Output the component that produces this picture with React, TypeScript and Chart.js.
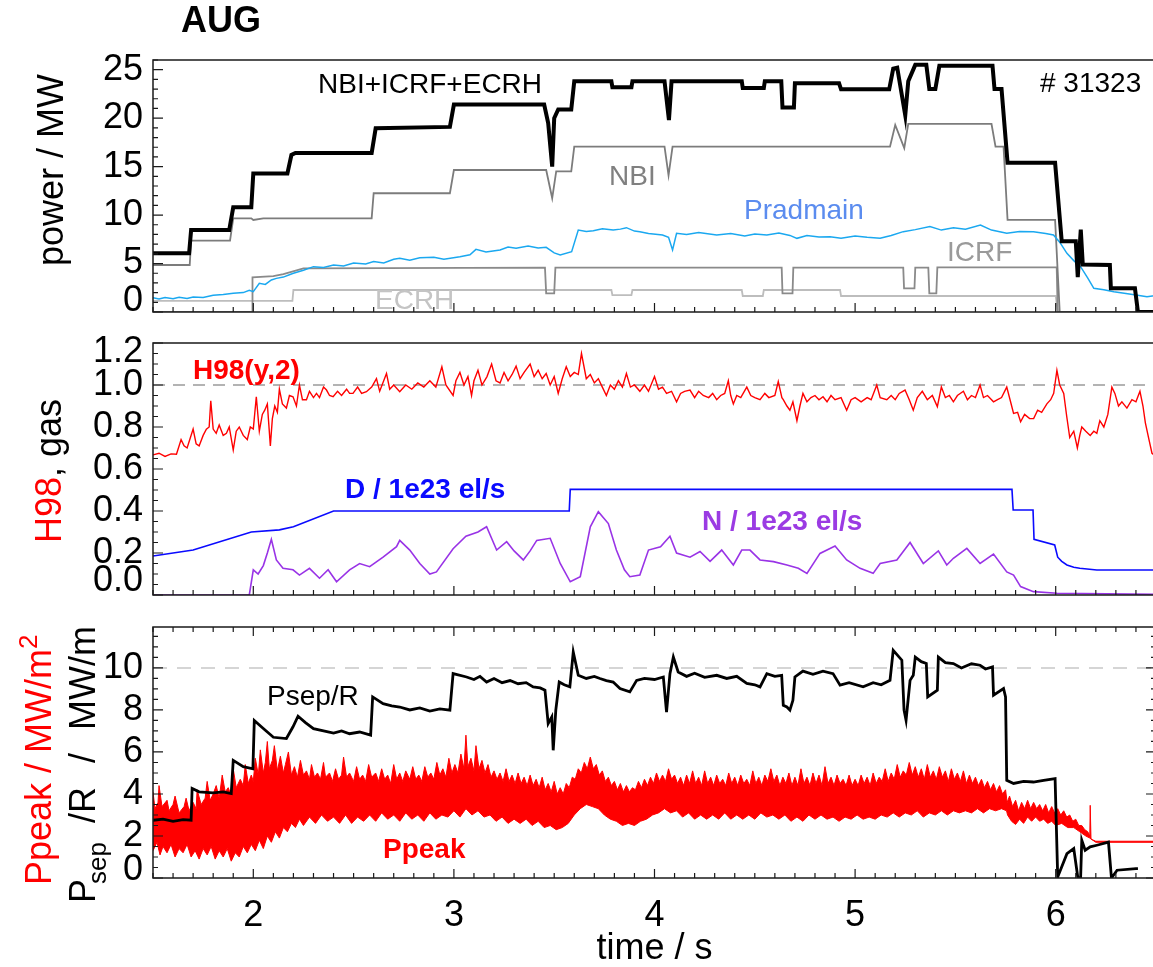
import React, { useEffect, useRef } from 'react';
import { Chart, registerables } from 'chart.js';
Chart.register(...registerables);

const FONT = '"Liberation Sans", Arial, Helvetica, sans-serif';

// ---------------- Panel 1: heating power (MW) ----------------
const totalT = [1.5, 1.68, 1.69, 1.88, 1.9, 1.99, 2.0, 2.17, 2.19, 2.21, 2.59, 2.61, 2.98, 3.0, 3.45, 3.47, 3.49, 3.5, 3.52, 3.585, 3.6, 3.785, 3.79, 3.885, 3.89, 4.05, 4.072, 4.085, 4.435, 4.44, 4.545, 4.55, 4.632, 4.638, 4.695, 4.7, 4.92, 4.93, 5.17, 5.19, 5.21, 5.25, 5.265, 5.3, 5.355, 5.37, 5.4, 5.42, 5.685, 5.695, 5.73, 5.76, 5.997, 6.03, 6.1, 6.11, 6.125, 6.135, 6.27, 6.275, 6.395, 6.41, 6.5];
const totalV = [6.05, 6.05, 8.46, 8.46, 10.8, 10.8, 14.3, 14.3, 16.2, 16.4, 16.4, 18.95, 19.1, 21.4, 21.4, 19.5, 15.0, 20.0, 20.9, 20.9, 23.8, 23.8, 23.2, 23.2, 23.8, 23.8, 19.8, 23.8, 23.8, 23.1, 23.1, 23.8, 23.8, 21.1, 21.1, 23.6, 23.6, 22.98, 22.98, 25.1, 25.2, 20.3, 23.8, 25.5, 25.5, 23.0, 23.0, 25.4, 25.4, 23.0, 23.0, 15.4, 15.4, 7.3, 7.3, 3.6, 8.5, 4.9, 4.85, 2.45, 2.45, 0, 0];

const nbiT = [1.5, 1.683, 1.69, 1.884, 1.9, 1.99, 2.0, 2.05, 2.59, 2.6, 2.98, 3.0, 3.46, 3.49, 3.51, 3.585, 3.6, 4.05, 4.07, 4.09, 5.174, 5.2, 5.245, 5.265, 5.68, 5.7, 5.74, 5.76, 5.997, 6.02, 6.5];
const nbiV = [4.85, 4.85, 7.36, 7.36, 9.67, 9.67, 9.5, 9.67, 9.67, 12.25, 12.25, 14.65, 14.65, 11.73, 14.5, 14.5, 17.06, 17.06, 14.1, 17.06, 17.06, 19.3, 16.9, 19.4, 19.4, 17.06, 17.06, 9.5, 9.5, 0, 0];

const icrfT = [1.5, 1.994, 1.996, 2.1, 2.15, 2.25, 3.454, 3.46, 3.5, 3.506, 4.634, 4.638, 4.688, 4.692, 5.24, 5.244, 5.296, 5.3, 5.365, 5.37, 5.405, 5.41, 6.005, 6.01, 6.5];
const icrfV = [0, 0, 3.58, 3.7, 3.9, 4.5, 4.57, 1.93, 1.93, 4.57, 4.57, 1.93, 1.93, 4.57, 4.57, 2.44, 2.44, 4.57, 4.57, 1.93, 1.93, 4.6, 4.6, 0, 0];

const ecrhT = [1.5, 2.195, 2.2, 3.785, 3.79, 3.885, 3.89, 4.435, 4.44, 4.54, 4.545, 4.925, 4.93, 6.0, 6.01, 6.5];
const ecrhV = [1.15, 1.15, 2.27, 2.27, 1.75, 1.75, 2.27, 2.27, 1.65, 1.65, 2.27, 2.27, 1.65, 1.65, 0, 0];

const pradT = [1.5, 1.53, 1.56, 1.6, 1.63, 1.67, 1.7, 1.75, 1.8, 1.85, 1.9, 1.95, 1.98, 2.0, 2.03, 2.06, 2.09, 2.115, 2.15, 2.18, 2.2, 2.25, 2.3, 2.35, 2.4, 2.45, 2.5, 2.56, 2.6, 2.65, 2.7, 2.73, 2.78, 2.83, 2.9, 2.95, 3.03, 3.08, 3.11, 3.16, 3.23, 3.27, 3.31, 3.37, 3.42, 3.46, 3.5, 3.53, 3.587, 3.62, 3.66, 3.695, 3.74, 3.794, 3.83, 3.86, 3.9, 3.927, 3.97, 4.04, 4.07, 4.09, 4.11, 4.16, 4.22, 4.31, 4.38, 4.45, 4.5, 4.56, 4.62, 4.675, 4.71, 4.76, 4.82, 4.875, 4.93, 5.0, 5.06, 5.125, 5.18, 5.24, 5.3, 5.373, 5.43, 5.49, 5.55, 5.625, 5.68, 5.756, 5.82, 5.889, 5.95, 5.989, 6.02, 6.056, 6.09, 6.124, 6.16, 6.19, 6.24, 6.29, 6.35, 6.4, 6.455, 6.5];
const pradV = [1.48, 1.35, 1.5, 1.38, 1.52, 1.4, 1.55, 1.5, 1.72, 1.8, 1.93, 2.0, 2.25, 2.1, 2.96, 2.85, 3.3, 3.47, 3.6, 3.85, 3.99, 4.3, 4.68, 4.6, 4.85, 4.75, 5.05, 4.95, 5.2, 5.05, 5.45, 5.54, 5.35, 5.6, 5.64, 5.45, 5.7, 5.9, 6.46, 6.2, 6.4, 6.7, 6.57, 6.8, 6.6, 6.67, 6.1, 5.88, 6.22, 8.46, 8.3, 8.39, 8.6, 8.46, 8.55, 8.7, 8.35, 8.29, 8.1, 7.95, 7.7, 6.4, 8.12, 8.0, 8.2, 7.95, 8.1, 7.85, 8.05, 7.95, 8.15, 7.9, 7.6, 7.9, 7.75, 7.77, 7.6, 7.85, 7.7, 7.6, 7.9, 8.29, 8.5, 8.81, 8.45, 8.7, 8.55, 8.98, 8.45, 8.12, 8.3, 8.29, 8.1, 7.95, 7.2, 6.05, 5.3, 4.68, 3.5, 2.44, 2.3, 2.1, 1.9, 1.75, 1.58, 1.7];

// ---------------- Panel 2: H98 and gas rates ----------------
const h98T = [1.5, 1.53, 1.56, 1.59, 1.617, 1.64, 1.655, 1.67, 1.685, 1.7, 1.715, 1.73, 1.75, 1.766, 1.78, 1.788, 1.8, 1.815, 1.83, 1.85, 1.866, 1.88, 1.9, 1.915, 1.93, 1.95, 1.97, 1.985, 2.0, 2.015, 2.03, 2.045, 2.057, 2.07, 2.085, 2.095, 2.107, 2.12, 2.13, 2.145, 2.165, 2.18, 2.198, 2.215, 2.23, 2.245, 2.265, 2.28, 2.3, 2.315, 2.33, 2.35, 2.365, 2.38, 2.398, 2.42, 2.44, 2.465, 2.48, 2.497, 2.52, 2.54, 2.564, 2.59, 2.614, 2.63, 2.664, 2.68, 2.7, 2.73, 2.76, 2.79, 2.82, 2.85, 2.88, 2.91, 2.94, 2.96, 2.996, 3.01, 3.03, 3.05, 3.07, 3.088, 3.1, 3.12, 3.14, 3.165, 3.188, 3.21, 3.23, 3.25, 3.27, 3.29, 3.31, 3.33, 3.35, 3.38, 3.4, 3.42, 3.44, 3.46, 3.48, 3.5, 3.52, 3.54, 3.56, 3.58, 3.6, 3.62, 3.636, 3.66, 3.68, 3.7, 3.72, 3.74, 3.76, 3.78, 3.8, 3.82, 3.84, 3.86, 3.88, 3.9, 3.927, 3.95, 3.97, 4.0, 4.02, 4.04, 4.06, 4.085, 4.11, 4.13, 4.15, 4.177, 4.2, 4.22, 4.243, 4.27, 4.29, 4.31, 4.33, 4.35, 4.368, 4.38, 4.393, 4.41, 4.43, 4.46, 4.48, 4.5, 4.526, 4.55, 4.57, 4.6, 4.617, 4.635, 4.642, 4.66, 4.675, 4.69, 4.71, 4.725, 4.74, 4.76, 4.78, 4.8, 4.82, 4.84, 4.86, 4.88, 4.9, 4.93, 4.958, 4.98, 5.0, 5.03, 5.06, 5.08, 5.108, 5.125, 5.158, 5.18, 5.2, 5.22, 5.249, 5.27, 5.29, 5.31, 5.335, 5.36, 5.385, 5.41, 5.43, 5.45, 5.47, 5.49, 5.51, 5.54, 5.56, 5.58, 5.6, 5.623, 5.64, 5.66, 5.69, 5.71, 5.73, 5.756, 5.775, 5.79, 5.81, 5.825, 5.845, 5.87, 5.89, 5.91, 5.93, 5.956, 5.975, 5.99, 6.006, 6.02, 6.04, 6.055, 6.07, 6.09, 6.108, 6.12, 6.13, 6.15, 6.172, 6.19, 6.205, 6.22, 6.24, 6.26, 6.28, 6.295, 6.313, 6.33, 6.355, 6.38, 6.4, 6.42, 6.435, 6.447, 6.465, 6.48, 6.5];
const h98V = [0.667, 0.675, 0.66, 0.672, 0.67, 0.74, 0.71, 0.7, 0.745, 0.79, 0.72, 0.71, 0.76, 0.79, 0.8, 0.925, 0.79, 0.77, 0.81, 0.76, 0.77, 0.8, 0.69, 0.78, 0.8, 0.76, 0.74, 0.8, 0.79, 0.944, 0.78, 0.86, 0.88, 0.91, 0.71, 0.84, 0.9, 0.87, 0.98, 0.91, 0.89, 0.95, 0.944, 0.9, 1.0, 0.93, 0.93, 0.97, 0.94, 0.96, 0.94, 0.99, 0.976, 0.95, 0.944, 0.97, 0.95, 0.98, 0.96, 0.96, 0.99, 0.96, 0.968, 0.99, 1.03, 0.97, 1.055, 0.98, 1.0, 0.968, 1.0, 0.98, 1.01, 0.99, 1.02, 0.99, 1.087, 1.0, 0.95, 1.02, 1.06, 1.0, 1.04, 0.95, 1.02, 1.07, 1.0, 1.04, 1.1, 1.02, 1.01, 1.06, 1.02, 1.05, 1.09, 1.03, 1.06, 1.1, 1.04, 1.07, 1.03, 1.055, 1.0, 1.04, 0.96, 1.03, 1.087, 1.04, 1.06, 1.05, 1.15, 1.03, 1.05, 1.01, 1.03, 0.99, 0.95, 1.0, 0.98, 1.02, 0.99, 1.055, 0.99, 1.0, 0.97, 1.0, 0.97, 1.04, 0.98, 0.99, 0.96, 0.97, 0.92, 0.96, 0.97, 0.976, 0.94, 0.97, 0.95, 0.94, 0.96, 0.93, 0.95, 0.96, 1.02, 0.95, 0.91, 0.95, 0.94, 0.99, 0.95, 0.94, 0.93, 0.96, 0.94, 0.95, 1.016, 0.94, 0.93, 0.9, 0.88, 0.92, 0.83, 0.9, 0.96, 0.92, 0.94, 0.95, 0.93, 0.944, 0.92, 0.95, 0.93, 0.94, 0.88, 0.93, 0.94, 0.92, 0.94, 0.93, 1.0, 0.94, 0.93, 0.95, 0.93, 0.96, 0.976, 0.93, 0.88, 0.94, 0.97, 0.93, 0.95, 0.897, 0.99, 0.94, 0.95, 0.92, 0.95, 0.97, 0.93, 0.95, 0.94, 1.0, 0.94, 0.95, 0.92, 0.93, 0.94, 0.99, 0.92, 0.865, 0.87, 0.825, 0.86, 0.84, 0.84, 0.88, 0.87, 0.91, 0.93, 0.96, 1.07, 1.0, 0.96, 0.85, 0.75, 0.78, 0.7, 0.76, 0.8, 0.78, 0.76, 0.78, 0.77, 0.83, 0.8, 0.86, 0.99, 0.96, 0.9, 0.92, 0.89, 0.93, 0.92, 0.97, 0.9, 0.82, 0.74, 0.675, 0.66];

const dGasT = [1.5, 1.7, 1.99, 2.13, 2.2, 2.4, 3.575, 3.58, 5.782, 5.788, 5.887, 5.892, 5.995, 6.01, 6.03, 6.056, 6.09, 6.12, 6.205, 6.5];
const dGasV = [0.186, 0.214, 0.3, 0.31, 0.325, 0.4, 0.4, 0.503, 0.503, 0.405, 0.405, 0.265, 0.238, 0.18, 0.16, 0.143, 0.132, 0.127, 0.119, 0.119];

const nGasT = [1.5, 1.98, 2.0, 2.024, 2.05, 2.07, 2.09, 2.115, 2.148, 2.198, 2.23, 2.28, 2.33, 2.373, 2.415, 2.48, 2.53, 2.58, 2.647, 2.714, 2.73, 2.78, 2.83, 2.88, 2.913, 2.996, 3.06, 3.12, 3.163, 3.213, 3.263, 3.3, 3.346, 3.38, 3.413, 3.48, 3.53, 3.58, 3.63, 3.68, 3.72, 3.77, 3.81, 3.85, 3.877, 3.927, 3.97, 4.03, 4.077, 4.11, 4.177, 4.227, 4.277, 4.335, 4.393, 4.435, 4.476, 4.526, 4.593, 4.66, 4.717, 4.76, 4.825, 4.9, 4.958, 5.025, 5.09, 5.125, 5.208, 5.274, 5.34, 5.415, 5.457, 5.49, 5.557, 5.623, 5.69, 5.756, 5.79, 5.825, 5.889, 6.006, 6.5];
const nGasV = [0, 0, 0.12, 0.1, 0.14, 0.2, 0.265, 0.167, 0.127, 0.12, 0.095, 0.127, 0.08, 0.12, 0.063, 0.12, 0.15, 0.135, 0.18, 0.23, 0.26, 0.214, 0.15, 0.1, 0.11, 0.22, 0.28, 0.3, 0.325, 0.214, 0.254, 0.21, 0.167, 0.21, 0.26, 0.27, 0.15, 0.063, 0.087, 0.325, 0.397, 0.34, 0.214, 0.12, 0.087, 0.095, 0.214, 0.23, 0.28, 0.2, 0.18, 0.207, 0.16, 0.214, 0.143, 0.214, 0.214, 0.167, 0.159, 0.143, 0.127, 0.103, 0.198, 0.233, 0.167, 0.127, 0.103, 0.15, 0.167, 0.25, 0.15, 0.21, 0.143, 0.175, 0.222, 0.15, 0.195, 0.11, 0.095, 0.04, 0.016, 0.008, 0.003];

const refT = [1.5, 6.5];
const h98Ref = [1.0, 1.0];

// ---------------- Panel 3: Psep/R and Ppeak ----------------
const psepT = [1.5, 1.55, 1.6, 1.65, 1.69, 1.695, 1.73, 1.8, 1.85, 1.89, 1.9, 1.95, 1.998, 2.005, 2.04, 2.1, 2.165, 2.198, 2.223, 2.26, 2.3, 2.35, 2.4, 2.44, 2.48, 2.53, 2.585, 2.595, 2.647, 2.69, 2.73, 2.78, 2.83, 2.88, 2.93, 2.98, 2.996, 3.063, 3.1, 3.13, 3.163, 3.2, 3.24, 3.28, 3.32, 3.36, 3.395, 3.43, 3.454, 3.47, 3.488, 3.495, 3.508, 3.525, 3.55, 3.578, 3.595, 3.62, 3.66, 3.7, 3.728, 3.76, 3.794, 3.828, 3.877, 3.911, 3.95, 4.0, 4.044, 4.06, 4.077, 4.094, 4.118, 4.16, 4.2, 4.25, 4.31, 4.36, 4.41, 4.46, 4.5, 4.526, 4.56, 4.6, 4.634, 4.642, 4.66, 4.675, 4.69, 4.7, 4.74, 4.79, 4.84, 4.89, 4.925, 4.97, 5.04, 5.09, 5.13, 5.174, 5.19, 5.233, 5.244, 5.254, 5.274, 5.29, 5.3, 5.33, 5.355, 5.362, 5.41, 5.415, 5.45, 5.49, 5.53, 5.58, 5.623, 5.65, 5.685, 5.69, 5.74, 5.75, 5.756, 5.79, 5.84, 5.889, 5.94, 5.997, 6.01, 6.056, 6.09, 6.11, 6.124, 6.13, 6.147, 6.172, 6.205, 6.263, 6.278, 6.306, 6.4, 6.41];
const psepV = [2.75, 2.8, 2.7, 2.78, 2.75, 4.26, 4.1, 4.05, 4.1, 4.02, 5.6, 5.3, 5.2, 7.5, 7.2, 6.7, 6.64, 7.2, 7.7, 7.4, 7.11, 7.0, 6.9, 7.0, 6.87, 6.95, 6.8, 8.62, 8.3, 8.2, 8.14, 8.0, 8.1, 7.95, 8.05, 7.99, 9.73, 9.57, 9.45, 9.6, 9.33, 9.5, 9.3, 9.4, 9.25, 9.3, 9.1, 9.05, 8.94, 7.35, 7.67, 6.08, 7.99, 9.33, 9.2, 9.1, 10.76, 9.65, 9.5, 9.6, 9.5, 9.4, 9.33, 9.02, 8.86, 9.41, 9.5, 9.45, 9.57, 7.9, 9.73, 10.52, 9.81, 9.6, 9.75, 9.55, 9.65, 9.5, 9.6, 9.26, 9.2, 9.1, 9.73, 9.6, 9.65, 8.22, 8.14, 7.99, 8.46, 9.57, 9.85, 9.7, 9.85, 9.73, 9.18, 9.3, 9.1, 9.3, 9.2, 9.41, 10.84, 10.37, 7.99, 7.51, 9.41, 9.65, 10.52, 10.3, 10.21, 8.62, 8.94, 10.52, 10.25, 10.21, 10.0, 10.2, 10.13, 9.95, 10.05, 8.7, 9.02, 8.62, 4.65, 4.5, 4.6, 4.57, 4.65, 4.73, 0.05, 1.16, 1.4, 0.05, -0.06, 1.8, 1.32, 1.48, 1.56, 1.71, 0.0, 0.37, 0.45, 0.45];

const ppeakHiT = [1.5, 1.51, 1.525, 1.53, 1.545, 1.57, 1.58, 1.6, 1.61, 1.63, 1.655, 1.665, 1.68, 1.7, 1.715, 1.72, 1.74, 1.76, 1.77, 1.785, 1.8, 1.815, 1.83, 1.845, 1.86, 1.875, 1.89, 1.9, 1.915, 1.935, 1.95, 1.96, 1.975, 1.99, 2.0, 2.01, 2.025, 2.035, 2.05, 2.06, 2.07, 2.08, 2.095, 2.105, 2.12, 2.135, 2.15, 2.16, 2.175, 2.19, 2.205, 2.22, 2.235, 2.25, 2.265, 2.28, 2.29, 2.305, 2.32, 2.335, 2.35, 2.36, 2.38, 2.395, 2.41, 2.425, 2.44, 2.45, 2.465, 2.48, 2.5, 2.515, 2.53, 2.545, 2.56, 2.575, 2.59, 2.61, 2.625, 2.64, 2.655, 2.67, 2.685, 2.7, 2.715, 2.73, 2.745, 2.76, 2.78, 2.795, 2.81, 2.825, 2.84, 2.855, 2.87, 2.885, 2.9, 2.915, 2.93, 2.945, 2.96, 2.975, 2.99, 3.005, 3.02, 3.035, 3.05, 3.06, 3.07, 3.085, 3.1, 3.11, 3.125, 3.14, 3.155, 3.17, 3.185, 3.2, 3.215, 3.23, 3.245, 3.26, 3.275, 3.29, 3.305, 3.32, 3.335, 3.35, 3.365, 3.38, 3.395, 3.41, 3.425, 3.44, 3.455, 3.47, 3.485, 3.5, 3.515, 3.53, 3.545, 3.56, 3.575, 3.59, 3.605, 3.62, 3.635, 3.65, 3.665, 3.68, 3.695, 3.71, 3.725, 3.74, 3.755, 3.77, 3.785, 3.8, 3.815, 3.83, 3.845, 3.86, 3.875, 3.89, 3.905, 3.92, 3.935, 3.95, 3.965, 3.98, 3.995, 4.01, 4.025, 4.04, 4.055, 4.07, 4.085, 4.1, 4.115, 4.13, 4.145, 4.16, 4.175, 4.19, 4.205, 4.22, 4.235, 4.25, 4.265, 4.28, 4.295, 4.31, 4.325, 4.34, 4.355, 4.37, 4.385, 4.4, 4.415, 4.43, 4.445, 4.46, 4.475, 4.49, 4.505, 4.52, 4.535, 4.55, 4.565, 4.58, 4.595, 4.61, 4.625, 4.64, 4.655, 4.67, 4.685, 4.7, 4.715, 4.73, 4.745, 4.76, 4.775, 4.79, 4.805, 4.82, 4.835, 4.85, 4.865, 4.88, 4.895, 4.91, 4.925, 4.94, 4.955, 4.97, 4.985, 5.0, 5.015, 5.03, 5.045, 5.06, 5.075, 5.09, 5.105, 5.12, 5.135, 5.15, 5.165, 5.18, 5.195, 5.21, 5.225, 5.24, 5.255, 5.27, 5.285, 5.3, 5.315, 5.33, 5.345, 5.36, 5.375, 5.39, 5.405, 5.42, 5.435, 5.45, 5.465, 5.48, 5.495, 5.51, 5.525, 5.54, 5.555, 5.57, 5.585, 5.6, 5.615, 5.63, 5.645, 5.66, 5.675, 5.69, 5.705, 5.72, 5.735, 5.75, 5.758, 5.77, 5.785, 5.8, 5.815, 5.83, 5.845, 5.86, 5.875, 5.89, 5.905, 5.92, 5.935, 5.95, 5.965, 5.98, 5.995, 6.01, 6.025, 6.04, 6.055, 6.07, 6.085, 6.1, 6.115, 6.13, 6.145, 6.16, 6.17, 6.172, 6.176, 6.2, 6.5];
const ppeakHiV = [4.1, 3.3, 3.6, 4.4, 3.4, 3.7, 3.2, 3.5, 3.9, 3.1, 3.4, 3.8, 3.2, 3.6, 3.3, 4.2, 3.5, 3.8, 4.6, 3.7, 4.0, 4.4, 3.8, 4.9, 4.1, 4.3, 3.9, 5.2, 4.3, 4.7, 4.4, 5.4, 4.5, 4.9, 4.6, 5.7, 4.9, 6.1, 5.0, 5.5, 6.5, 5.2, 5.6, 6.3, 5.1, 5.8, 5.0, 5.4, 6.0, 4.9, 5.3, 4.8, 5.6, 4.9, 5.1, 4.7, 5.4, 4.8, 5.0, 4.7, 5.5, 4.8, 5.0, 4.6, 5.2, 4.7, 4.9, 5.76, 4.8, 5.0, 4.6, 5.3, 4.7, 4.9, 4.6, 5.4, 4.8, 5.0, 4.6, 5.2, 4.7, 4.9, 4.5, 5.4, 4.7, 5.0, 4.6, 5.1, 4.7, 5.3, 4.7, 4.9, 4.6, 5.3, 4.8, 5.0, 4.7, 5.5, 4.9, 5.2, 4.8, 5.7, 5.0, 5.4, 5.0, 5.9, 5.2, 6.8, 5.3, 5.7, 5.1, 6.3, 5.2, 5.6, 5.0, 5.4, 4.8, 5.1, 4.7, 5.0, 4.6, 5.2, 4.6, 4.9, 4.5, 5.0, 4.5, 4.8, 4.4, 4.9, 4.4, 4.7, 4.3, 4.8, 4.2, 4.5, 4.1, 4.6, 4.0, 4.3, 4.0, 4.5, 4.3, 4.8, 4.7, 5.2, 5.0, 5.5, 5.2, 5.76, 5.2, 5.4, 4.9, 5.1, 4.6, 4.8, 4.4, 4.6, 4.2, 4.5, 4.1, 4.4, 4.1, 4.3, 4.2, 4.6, 4.3, 4.7, 4.4, 4.8, 4.5, 5.0, 4.6, 4.9, 4.6, 5.2, 4.7, 4.9, 4.5, 4.8, 4.4, 4.9, 4.5, 5.1, 4.5, 4.8, 4.4, 5.1, 4.5, 4.8, 4.4, 4.9, 4.5, 4.7, 4.4, 5.0, 4.5, 4.8, 4.4, 4.9, 4.5, 4.7, 4.4, 5.1, 4.5, 4.8, 4.4, 4.9, 4.6, 5.2, 4.6, 4.9, 4.4, 4.8, 4.5, 5.0, 4.4, 4.8, 4.4, 5.2, 4.5, 4.8, 4.4, 5.0, 4.5, 4.9, 4.4, 5.3, 4.5, 4.8, 4.4, 4.9, 4.5, 4.7, 4.4, 4.9, 4.4, 4.7, 4.4, 4.9, 4.5, 4.8, 4.4, 5.0, 4.5, 4.8, 4.6, 5.2, 4.6, 5.0, 4.7, 5.4, 4.8, 5.1, 4.9, 5.5, 4.9, 5.3, 4.8, 5.2, 4.7, 5.4, 4.8, 5.1, 4.7, 5.3, 4.8, 5.1, 4.6, 5.2, 4.7, 5.0, 4.6, 5.1, 4.5, 4.9, 4.5, 4.8, 4.4, 4.7, 4.3, 4.6, 4.2, 4.5, 4.1, 4.4, 4.0, 4.2, 3.6, 3.9, 3.4, 3.7, 3.2, 3.6, 3.3, 3.7, 3.3, 3.6, 3.3, 3.5, 3.2, 3.5, 3.1, 3.4, 3.1, 3.3, 3.0, 3.2, 2.9, 3.0, 2.7, 2.8, 2.5, 2.5, 2.3, 2.2, 2.0, 3.46, 1.85, 1.75, 1.75];

const ppeakLoT = [1.5, 1.52, 1.535, 1.55, 1.57, 1.59, 1.61, 1.63, 1.65, 1.67, 1.69, 1.71, 1.73, 1.75, 1.77, 1.79, 1.81, 1.83, 1.85, 1.87, 1.89, 1.91, 1.93, 1.95, 1.97, 1.99, 2.01, 2.03, 2.05, 2.07, 2.09, 2.11, 2.13, 2.15, 2.17, 2.19, 2.21, 2.23, 2.25, 2.28, 2.31, 2.34, 2.37, 2.4, 2.43, 2.46, 2.49, 2.52, 2.55, 2.58, 2.61, 2.64, 2.67, 2.7, 2.73, 2.76, 2.79, 2.82, 2.85, 2.88, 2.91, 2.94, 2.97, 3.0, 3.03, 3.06, 3.09, 3.12, 3.15, 3.18, 3.21, 3.24, 3.27, 3.3, 3.33, 3.36, 3.39, 3.42, 3.45, 3.48, 3.51, 3.54, 3.57, 3.6, 3.63, 3.66, 3.69, 3.72, 3.75, 3.78, 3.81, 3.84, 3.87, 3.9, 3.93, 3.96, 3.99, 4.02, 4.05, 4.08, 4.11, 4.14, 4.17, 4.2, 4.23, 4.26, 4.29, 4.32, 4.35, 4.38, 4.41, 4.44, 4.47, 4.5, 4.53, 4.56, 4.59, 4.62, 4.65, 4.68, 4.71, 4.74, 4.77, 4.8, 4.83, 4.86, 4.89, 4.92, 4.95, 4.98, 5.01, 5.04, 5.07, 5.1, 5.13, 5.16, 5.19, 5.22, 5.25, 5.28, 5.31, 5.34, 5.37, 5.4, 5.43, 5.46, 5.49, 5.52, 5.55, 5.58, 5.61, 5.64, 5.67, 5.7, 5.73, 5.755, 5.76, 5.78, 5.8, 5.82, 5.84, 5.86, 5.88, 5.9, 5.92, 5.94, 5.96, 5.98, 6.0, 6.03, 6.06, 6.09, 6.12, 6.15, 6.17, 6.2, 6.5];
const ppeakLoV = [1.3, 1.7, 1.1, 1.5, 1.2, 1.6, 1.0, 1.4, 1.2, 1.6, 1.0, 1.3, 0.9, 1.4, 1.1, 1.5, 0.9, 1.3, 1.0, 1.4, 0.8, 1.2, 1.0, 1.5, 1.2, 1.6, 1.3, 1.8, 1.4, 2.0, 1.7, 2.2, 1.9, 2.4, 2.2, 2.6, 2.4, 2.8, 2.5, 2.9, 2.6, 3.0, 2.7, 2.9, 2.6, 3.0, 2.6, 2.9, 2.7, 3.0, 2.7, 3.1, 2.8, 3.0, 2.7, 3.1, 2.8, 3.0, 2.7, 3.1, 2.8, 3.0, 2.9, 3.2, 2.9, 3.3, 3.0, 3.2, 2.9, 3.0, 2.7, 2.9, 2.6, 2.8, 2.6, 2.8, 2.5, 2.7, 2.4, 2.5, 2.3, 2.4, 2.6, 3.0, 3.3, 3.5, 3.4, 3.3, 3.0, 2.8, 2.7, 2.5, 2.6, 2.5, 2.7, 2.8, 3.0, 3.1, 3.3, 3.1, 3.2, 2.9, 3.1, 2.8, 3.0, 2.8, 3.0, 2.8, 3.1, 2.8, 3.0, 2.8, 3.0, 2.8, 3.1, 2.9, 3.0, 2.8, 3.0, 2.7, 2.9, 2.7, 3.0, 2.8, 3.0, 2.8, 2.9, 2.7, 2.9, 2.8, 3.0, 2.8, 2.9, 2.8, 3.0, 2.9, 3.1, 2.9, 3.1, 3.0, 3.2, 2.9, 3.1, 3.0, 3.2, 3.0, 3.2, 3.1, 3.2, 3.1, 3.3, 3.1, 3.3, 3.2, 3.3, 3.2, 3.0, 2.7, 2.55, 2.8, 2.6, 2.9, 2.7, 2.9, 2.7, 2.8, 2.6, 2.7, 2.5, 2.6, 2.4, 2.4, 2.2, 2.0, 1.9, 1.7, 1.7];

const psepRef = [10, 10];

// ---------------- tick values ----------------
const xTickVals = [2, 3, 4, 5, 6];
const p1TickStep = 5;
const p2TickStep = 0.2;
const p3TickStep = 2;

// ---------------- helpers ----------------
const xy = (t: number[], v: number[]) => t.map((tt, i) => ({ x: tt, y: v[i] }));

type Seg = { text: string; color: string; size: number; bold?: boolean; shift?: number; at?: number };
type Item = {
  text?: string; x: number; y: number; color?: string; size?: number; bold?: boolean;
  rotate?: boolean; segs?: Seg[]; clip?: boolean; align?: CanvasTextAlign;
};

function makeAnnotPlugin(items: Item[], offsetY: number) {
  return {
    id: 'annot',
    afterDatasetsDraw(chart: any) {
      const ctx: CanvasRenderingContext2D = chart.ctx;
      for (const it of items) {
        ctx.save();
        if (it.clip) {
          const a = chart.chartArea;
          ctx.beginPath();
          ctx.rect(a.left, a.top, a.right - a.left, a.bottom - a.top);
          ctx.clip();
        }
        ctx.translate(it.x, it.y - offsetY);
        if (it.rotate) ctx.rotate(-Math.PI / 2);
        if (it.segs) {
          let pos = 0;
          for (const s of it.segs) {
            ctx.font = `${s.bold ? 'bold ' : ''}${s.size}px ${FONT}`;
            ctx.fillStyle = s.color;
            ctx.textAlign = 'left';
            ctx.textBaseline = 'alphabetic';
            const x0 = typeof s.at === 'number' ? s.at : pos;
            ctx.fillText(s.text, x0, s.shift || 0);
            pos = x0 + ctx.measureText(s.text).width;
          }
        } else {
          ctx.font = `${it.bold ? 'bold ' : ''}${it.size || 28}px ${FONT}`;
          ctx.fillStyle = it.color || '#000';
          ctx.textAlign = it.align || 'left';
          ctx.textBaseline = 'middle';
          ctx.fillText(it.text || '', 0, 0);
        }
        ctx.restore();
      }
    },
  };
}

function makeFramePlugin(f: { topTicks: boolean; rightTicks: boolean; yMinor: number; yMajor: number; yMax: number }) {
  return {
    id: 'frame',
    afterDatasetsDraw(chart: any) {
      const ctx: CanvasRenderingContext2D = chart.ctx;
      const { left, right, top, bottom } = chart.chartArea;
      const xs = chart.scales.x;
      const ys = chart.scales.y;
      ctx.save();
      ctx.strokeStyle = '#1a1a1a';
      ctx.lineWidth = 1.5;
      ctx.strokeRect(left, top, right - left, bottom - top);
      ctx.lineWidth = 1.2;
      ctx.beginPath();
      for (let k = 15; k <= 65; k++) {
        const px = xs.getPixelForValue(k / 10);
        const L = k % 10 === 0 ? 9 : 5;
        ctx.moveTo(px, bottom); ctx.lineTo(px, bottom - L);
        if (f.topTicks) { ctx.moveTo(px, top); ctx.lineTo(px, top + L); }
      }
      const n = Math.round(f.yMax / f.yMinor);
      for (let k = 0; k <= n; k++) {
        const v = k * f.yMinor;
        const r = v / f.yMajor;
        const major = Math.abs(r - Math.round(r)) < 1e-6;
        const py = ys.getPixelForValue(v);
        if (py < top - 0.5) continue;
        const L = major ? 10 : 5;
        ctx.moveTo(left, py); ctx.lineTo(left + L, py);
        if (f.rightTicks) { ctx.moveTo(right, py); ctx.lineTo(right - L, py); }
      }
      ctx.stroke();
      ctx.restore();
    },
  };
}

function lineDs(t: number[], v: number[], color: string, width: number, extra: any = {}) {
  return { data: xy(t, v), borderColor: color, backgroundColor: color, borderWidth: width, pointRadius: 0, tension: 0, fill: false, ...extra };
}

function makeOptions(p: {
  padTop: number; xHeight: number; showX: boolean; yMin: number; yMax: number; yStep: number;
  fmt: (v: number) => string; zeroLH: number; topVal?: number; topLH?: number;
}) {
  const isZero = (v: number) => Math.abs(v) < 1e-9;
  const isTop = (v: number) => p.topVal !== undefined && Math.abs(v - p.topVal) < 1e-9;
  return {
    responsive: false,
    animation: false,
    devicePixelRatio: 1,
    events: [],
    layout: { padding: { top: p.padTop, left: 0, right: 0, bottom: 0 } },
    plugins: {
      legend: { display: false },
      tooltip: { enabled: false },
    },
    scales: {
      x: {
        type: 'linear',
        min: 1.5,
        max: 6.5,
        grid: { display: false, drawTicks: false },
        border: { display: false },
        afterBuildTicks: (s: any) => { s.ticks = xTickVals.map((v) => ({ value: v })); },
        ticks: {
          display: p.showX,
          color: '#000',
          padding: 16,
          font: { family: FONT, size: 36 },
          maxRotation: 0,
          autoSkip: false,
          callback: (v: any) => String(v),
        },
        title: {
          display: p.showX,
          text: 'time / s',
          color: '#000',
          font: { family: FONT, size: 36, lineHeight: 1 },
          padding: { top: 0, bottom: 0 },
        },
        afterFit: (s: any) => { s.height = p.xHeight; s.paddingLeft = 0; s.paddingRight = 0; },
      },
      y: {
        type: 'linear',
        min: p.yMin,
        max: p.yMax,
        grid: { display: false, drawTicks: false },
        border: { display: false },
        ticks: {
          stepSize: p.yStep,
          includeBounds: false,
          autoSkip: false,
          color: '#000',
          padding: 10,
          font: (c: any) => {
            const v = c.tick ? c.tick.value : 1;
            const lh = isZero(v) ? p.zeroLH : isTop(v) ? (p.topLH as number) : 1.2;
            return { family: FONT, size: 36, lineHeight: lh };
          },
          callback: (v: any) => (isZero(v) ? [p.fmt(0), ''] : isTop(v) ? ['', p.fmt(v)] : p.fmt(v)),
        },
        afterFit: (s: any) => { s.width = 153; s.paddingTop = 0; s.paddingBottom = 0; },
      },
    },
  };
}

const P1_TOP = 0;
const config1 = () => ({
  type: 'line',
  data: {
    datasets: [
      lineDs(totalT, totalV, '#000000', 4),
      lineDs(pradT, pradV, '#1aa8f0', 1.5),
      lineDs(nbiT, nbiV, '#7c7c7c', 1.8),
      lineDs(icrfT, icrfV, '#8a8a8a', 1.8),
      lineDs(ecrhT, ecrhV, '#bdbdbd', 1.8),
    ],
  },
  options: makeOptions({
    padTop: 60, xHeight: 18, showX: false, yMin: 0, yMax: 26, yStep: p1TickStep,
    fmt: (v) => String(v), zeroLH: 0.58,
  }),
  plugins: [
    makeFramePlugin({ topTicks: false, rightTicks: false, yMinor: 1, yMajor: 5, yMax: 26 }),
    makeAnnotPlugin([
      { text: 'AUG', x: 181, y: 22, size: 36, bold: true, color: '#000' },
      { text: 'power / MW', x: 53, y: 170, size: 36, rotate: true, align: 'center', color: '#000' },
      { text: 'NBI+ICRF+ECRH', x: 318, y: 85, color: '#000' },
      { text: '# 31323', x: 1040, y: 84, color: '#000' },
      { text: 'NBI', x: 609, y: 177, color: '#808080' },
      { text: 'Pradmain', x: 744, y: 211, color: '#5b8cef' },
      { text: 'ICRF', x: 947, y: 253, color: '#9a9a9a' },
      { text: 'ECRH', x: 375, y: 301, color: '#c4c4c4', clip: true },
    ], P1_TOP),
  ],
});

const P2_TOP = 318;
const config2 = () => ({
  type: 'line',
  data: {
    datasets: [
      lineDs(h98T, h98V, '#ff0000', 1.4),
      lineDs(dGasT, dGasV, '#0a0aff', 1.6),
      lineDs(nGasT, nGasV, '#9933e6', 1.6),
      lineDs(refT, h98Ref, '#9a9a9a', 1.5, { borderDash: [12, 8] }),
    ],
  },
  options: makeOptions({
    padTop: 343 - P2_TOP, xHeight: 610 - 595, showX: false, yMin: 0, yMax: 1.2, yStep: p2TickStep,
    fmt: (v) => v.toFixed(1), zeroLH: 0.75, topVal: 1.2, topLH: 0.5,
  }),
  plugins: [
    makeFramePlugin({ topTicks: false, rightTicks: false, yMinor: 0.05, yMajor: 0.2, yMax: 1.2 }),
    makeAnnotPlugin([
      {
        x: 61, y: 543, rotate: true,
        segs: [
          { text: 'H98', color: '#ff0000', size: 36 },
          { text: ', gas', color: '#000000', size: 36 },
        ],
      },
      { text: 'H98(y,2)', x: 193, y: 371, bold: true, color: '#ff0000' },
      { text: 'D / 1e23 el/s', x: 345, y: 490, bold: true, color: '#0a0aff' },
      { text: 'N / 1e23 el/s', x: 702, y: 522, bold: true, color: '#9b3be3' },
    ], P2_TOP),
  ],
});

const P3_TOP = 603;
const config3 = () => ({
  type: 'line',
  data: {
    datasets: [
      lineDs(psepT, psepV, '#000000', 2.8),
      lineDs(ppeakHiT, ppeakHiV, '#ff0000', 1, { fill: '+1', backgroundColor: '#ff0000' }),
      lineDs(ppeakLoT, ppeakLoV, '#ff0000', 1),
      lineDs(refT, psepRef, '#c8c8c8', 1.5, { borderDash: [14, 10] }),
    ],
  },
  options: makeOptions({
    padTop: 627 - P3_TOP, xHeight: 967 - 878, showX: true, yMin: 0, yMax: 11.95, yStep: p3TickStep,
    fmt: (v) => String(v), zeroLH: 0.45,
  }),
  plugins: [
    makeFramePlugin({ topTicks: true, rightTicks: true, yMinor: 0.5, yMajor: 2, yMax: 11.95 }),
    makeAnnotPlugin([
      {
        x: 51, y: 885, rotate: true,
        segs: [
          { text: 'Ppeak / MW/m', color: '#ff0000', size: 36 },
          { text: '2', color: '#ff0000', size: 26, shift: -14 },
        ],
      },
      {
        x: 95, y: 903, rotate: true,
        segs: [
          { text: 'P', color: '#000000', size: 36, at: 0 },
          { text: 'sep', color: '#000000', size: 26, at: 19, shift: 11 },
          { text: '/R', color: '#000000', size: 36, at: 80 },
          { text: '/', color: '#000000', size: 36, at: 140 },
          { text: 'MW/m', color: '#000000', size: 36, at: 173 },
        ],
      },
      { text: 'Psep/R', x: 267, y: 697, color: '#000' },
      { text: 'Ppeak', x: 383, y: 850, bold: true, color: '#ff0000' },
    ], P3_TOP),
  ],
});

function Panel({ top, height, make }: { top: number; height: number; make: () => any }) {
  const ref = useRef<HTMLCanvasElement>(null);
  useEffect(() => {
    const chart = new Chart(ref.current as HTMLCanvasElement, make());
    return () => chart.destroy();
  }, []);
  return (
    <canvas
      ref={ref}
      width={1156}
      height={height}
      style={{ position: 'absolute', left: 0, top, width: 1156, height, display: 'block' }}
    />
  );
}

export default function App() {
  return (
    <div style={{ position: 'absolute', left: 0, top: 0, width: 1153, height: 967, overflow: 'hidden', background: '#fff' }}>
      <Panel top={P1_TOP} height={330} make={config1} />
      <Panel top={P2_TOP} height={610 - P2_TOP} make={config2} />
      <Panel top={P3_TOP} height={967 - P3_TOP} make={config3} />
    </div>
  );
}
